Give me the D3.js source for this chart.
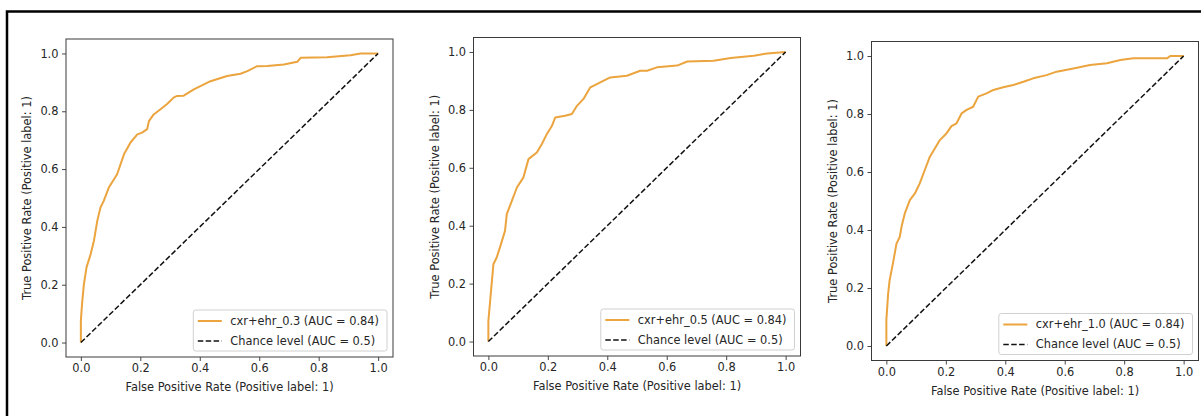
<!DOCTYPE html>
<html>
<head>
<meta charset="utf-8">
<script src="https://cdn.jsdelivr.net/npm/d3@7"></script>
<style>
body { margin: 0; background: #fff; }
text { font-family: "DejaVu Sans", sans-serif; fill: #262626; }
</style>
</head>
<body>
<div id="chart-area"></div>
<script>
// ROC points
var fpr03 = [0, 0, 0.004, 0.01, 0.019, 0.033, 0.044, 0.055, 0.066, 0.077, 0.094, 0.122, 0.145, 0.167, 0.19, 0.206, 0.223, 0.229, 0.245, 0.268, 0.29, 0.313, 0.324, 0.346, 0.38, 0.436, 0.492, 0.537, 0.56, 0.593, 0.627, 0.683, 0.728, 0.739, 0.828, 0.907, 0.941, 1];
var tpr03 = [0, 0.076, 0.134, 0.2, 0.26, 0.306, 0.352, 0.42, 0.467, 0.49, 0.536, 0.582, 0.651, 0.692, 0.72, 0.726, 0.738, 0.766, 0.789, 0.807, 0.825, 0.848, 0.853, 0.854, 0.876, 0.904, 0.922, 0.93, 0.939, 0.956, 0.957, 0.962, 0.971, 0.985, 0.987, 0.994, 1, 1];

var fpr05 = [0, 0, 0.006, 0.011, 0.017, 0.028, 0.039, 0.056, 0.062, 0.079, 0.096, 0.118, 0.135, 0.163, 0.18, 0.197, 0.214, 0.225, 0.258, 0.281, 0.298, 0.32, 0.343, 0.365, 0.388, 0.41, 0.466, 0.511, 0.534, 0.567, 0.635, 0.669, 0.758, 0.815, 0.893, 0.938, 1];
var tpr05 = [0, 0.071, 0.14, 0.198, 0.267, 0.29, 0.325, 0.382, 0.44, 0.486, 0.532, 0.567, 0.63, 0.653, 0.682, 0.717, 0.745, 0.774, 0.78, 0.786, 0.814, 0.838, 0.878, 0.889, 0.901, 0.912, 0.918, 0.935, 0.935, 0.947, 0.953, 0.967, 0.97, 0.979, 0.987, 0.995, 1];

var fpr10 = [0, 0, 0.006, 0.011, 0.022, 0.034, 0.045, 0.051, 0.062, 0.079, 0.096, 0.112, 0.129, 0.146, 0.163, 0.18, 0.202, 0.219, 0.236, 0.253, 0.27, 0.292, 0.309, 0.337, 0.36, 0.393, 0.427, 0.461, 0.494, 0.539, 0.573, 0.629, 0.685, 0.742, 0.787, 0.831, 0.944, 0.955, 1];
var tpr10 = [0, 0.089, 0.181, 0.227, 0.284, 0.353, 0.376, 0.411, 0.457, 0.503, 0.526, 0.56, 0.606, 0.652, 0.681, 0.71, 0.733, 0.758, 0.768, 0.802, 0.814, 0.825, 0.86, 0.871, 0.883, 0.892, 0.9, 0.911, 0.923, 0.934, 0.946, 0.957, 0.969, 0.975, 0.986, 0.992, 0.992, 1, 1];

var seriesNames = ["cxr+ehr_0.3", "cxr+ehr_0.5", "cxr+ehr_1.0"];
var aucValues = [0.84, 0.84, 0.84];
var chanceLabel = "Chance level (AUC = 0.5)";
var tickValues = [0, 0.2, 0.4, 0.6, 0.8, 1.0];
var xLabel = "False Positive Rate (Positive label: 1)";
var yLabel = "True Positive Rate (Positive label: 1)";

var fprs = [fpr03, fpr05, fpr10];
var tprs = [tpr03, tpr05, tpr10];

// axes boxes on the page
var panels = [
  {left: 66, top: 39, width: 327, height: 318},
  {left: 473.5, top: 37.5, width: 327, height: 318.5},
  {left: 871.5, top: 41.5, width: 327, height: 319}
];

var rocColor = "#eba43e";
var fontSize = "11.4px";

var svg = d3.select("#chart-area")
  .append("svg")
  .attr("width", 1201)
  .attr("height", 416);

// outer frame of the screenshot
svg.append("path")
  .attr("d", "M7,416 V11.5 H1201")
  .attr("fill", "none")
  .attr("stroke", "#000")
  .attr("stroke-width", 2.5);

panels.forEach(function(p, i) {
  var xScale = d3.scaleLinear().domain([-0.05, 1.05]).range([0, p.width]);
  var yScale = d3.scaleLinear().domain([-0.05, 1.05]).range([p.height, 0]);

  var g = svg.append("g")
    .attr("transform", "translate(" + p.left + "," + p.top + ")");

  var xAxis = d3.axisBottom(xScale).tickValues(tickValues).tickFormat(d3.format(".1f")).tickSize(4).tickPadding(3);
  var yAxis = d3.axisLeft(yScale).tickValues(tickValues).tickFormat(d3.format(".1f")).tickSize(4).tickPadding(3.5);

  var xAxisGroup = g.append("g")
    .attr("transform", "translate(0," + p.height + ")")
    .call(xAxis);
  var yAxisGroup = g.append("g").call(yAxis);

  [xAxisGroup, yAxisGroup].forEach(function(ax) {
    ax.select(".domain").remove();
    ax.selectAll(".tick line").attr("stroke", "#333").attr("stroke-width", 0.9);
    ax.selectAll("text")
      .style("font-size", fontSize)
      .style("font-family", "'DejaVu Sans', sans-serif")
      .attr("fill", "#262626");
  });

  var line = d3.line()
    .x(function(d) { return xScale(d[0]); })
    .y(function(d) { return yScale(d[1]); });

  var data = fprs[i].map(function(f, j) { return [f, tprs[i][j]]; });

  // roc curve
  g.append("path")
    .datum(data)
    .attr("d", line)
    .attr("fill", "none")
    .attr("stroke", rocColor)
    .attr("stroke-width", 2)
    .attr("stroke-linejoin", "round");

  // chance diagonal
  g.append("path")
    .datum([[0, 0], [1, 1]])
    .attr("d", line)
    .attr("fill", "none")
    .attr("stroke", "#111")
    .attr("stroke-width", 1.5)
    .attr("stroke-dasharray", "5.5,2.4");

  // axes frame
  g.append("rect")
    .attr("width", p.width)
    .attr("height", p.height)
    .attr("fill", "none")
    .attr("stroke", "#3a3a3a")
    .attr("stroke-width", 1);

  g.append("text")
    .attr("x", p.width / 2)
    .attr("y", p.height + 34)
    .attr("text-anchor", "middle")
    .style("font-size", fontSize)
    .text(xLabel);

  g.append("text")
    .attr("transform", "translate(-39," + (p.height / 2) + ") rotate(-90)")
    .attr("text-anchor", "middle")
    .attr("dy", "0.35em")
    .style("font-size", fontSize)
    .text(yLabel);

  // legend, lower right
  var legend = g.append("g");
  var labels = [seriesNames[i] + " (AUC = " + aucValues[i] + ")", chanceLabel];
  var box = legend.append("rect")
    .attr("rx", 2.5)
    .attr("fill", "#fff")
    .attr("fill-opacity", 0.8)
    .attr("stroke", "#d0d0d0")
    .attr("stroke-width", 1);

  var texts = legend.selectAll(".leg-text")
    .data(labels)
    .enter()
    .append("text")
    .attr("class", "leg-text")
    .attr("x", 37)
    .attr("y", function(d, k) { return 11 + k * 20; })
    .attr("dy", "0.35em")
    .style("font-size", fontSize)
    .text(function(d) { return d; });

  legend.selectAll(".leg-line")
    .data(labels)
    .enter()
    .append("line")
    .attr("x1", 4.5)
    .attr("x2", 28.5)
    .attr("y1", function(d, k) { return 11 + k * 20; })
    .attr("y2", function(d, k) { return 11 + k * 20; })
    .attr("stroke", function(d, k) { return k === 0 ? rocColor : "#111"; })
    .attr("stroke-width", function(d, k) { return k === 0 ? 2 : 1.5; })
    .attr("stroke-dasharray", function(d, k) { return k === 0 ? null : "5.5,2.4"; });

  var maxW = d3.max(texts.nodes(), function(n) { return n.getComputedTextLength(); });
  var bw = 37 + maxW + 8;
  var bh = 41;
  box.attr("width", bw).attr("height", bh);
  legend.attr("transform", "translate(" + (p.width - 6 - bw) + "," + (p.height - 6 - bh) + ")");
});
</script>
</body>
</html>
